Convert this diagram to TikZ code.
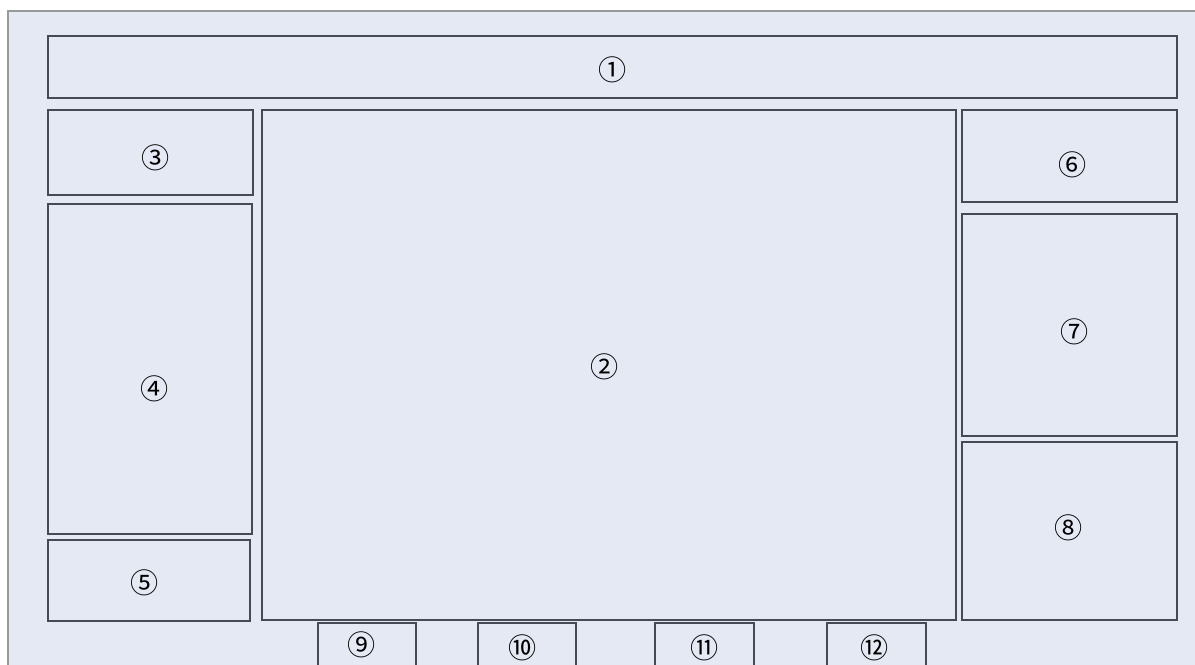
\documentclass[tikz,border=0pt]{standalone}
\usepackage{fontspec}
\usepackage{xcolor}
\usepackage{tikz}
\newfontfamily\cjk{Noto Sans CJK SC}
\definecolor{panefill}{HTML}{E4E9F4}
\definecolor{paneline}{HTML}{454A54}

\begin{document}
\begin{tikzpicture}[
  x=0.02cm, y=-0.02cm,
  frame/.style={draw=black!40, fill=panefill, line width=1.2pt},
  pane/.style={draw=paneline, fill=panefill, line width=1pt, inner sep=0pt, outer sep=0pt},
  num/.style={font=\cjk\fontsize{16}{18}\selectfont, inner sep=0pt}
]
\useasboundingbox (0,0) rectangle (1195,665);
\draw[frame] (8,11) rectangle (1215,690);
% panes: name/left/top/right/bottom/label/label offset
\foreach \n/\a/\b/\c/\d/\t/\dx/\dy in {top/48/36/1177/98/①/0/3, main/262/110/956/620/②/-4/2,
    lefta/48/110/253/195/③/5/5, leftb/48/204/252/534/④/5/20, leftc/48/540/250/621/⑤/-4/2,
    righta/962/110/1177/202/⑥/3/9, rightb/962/214/1177/436/⑦/5/7, rightc/962/442/1177/620/⑧/-1/-3,
    taba/318/623/416/669/⑨/-5/-1, tabb/478/623/576/669/⑩/-4/2, tabc/655/623/754/669/⑪/0/2, tabd/827/623/926/669/⑫/-2/2} {
  \node[pane, minimum width={(\c-\a)*0.02cm}, minimum height={(\d-\b)*0.02cm},
    label={[num, xshift=\dx*0.02cm, yshift=-\dy*0.02cm]center:\t}]
    (\n) at ({(\a+\c)/2},{(\b+\d)/2}) {};
}
\end{tikzpicture}
\end{document}
